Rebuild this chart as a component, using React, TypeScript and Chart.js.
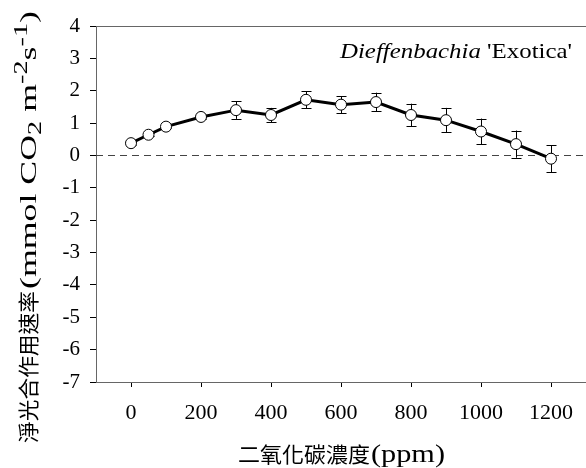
import React, { useEffect, useRef } from "react";
import { Chart, registerables } from "chart.js";

Chart.register(...registerables);

const co2 = [0, 50, 100, 200, 300, 400, 500, 600, 700, 800, 900, 1000, 1100, 1200];
const rate = [0.38, 0.64, 0.89, 1.19, 1.4, 1.25, 1.72, 1.57, 1.65, 1.25, 1.09, 0.74, 0.35, -0.1];
const err = [0.05, 0.05, 0.05, 0.06, 0.27, 0.22, 0.26, 0.26, 0.29, 0.35, 0.38, 0.4, 0.42, 0.42];
const xTicks = [0, 200, 400, 600, 800, 1000, 1200];
const yMin = -7;
const yMax = 4;
const xMin = -100;
const xMax = 1300;

const SERIF = "'Liberation Serif', 'Times New Roman', 'Noto Sans CJK TC', serif";
const CJK = "'Noto Sans CJK TC', 'Liberation Serif', serif";

type Seg = { t: string; font: string; dy: number };

// draws segments in a row starting at x=0 (current transform), stretched along the row to targetLen
function drawRow(ctx: CanvasRenderingContext2D, segs: Seg[], targetLen: number) {
  let total = 0;
  const widths = segs.map((s) => {
    ctx.font = s.font;
    const w = ctx.measureText(s.t).width;
    total += w;
    return w;
  });
  const k = targetLen / total;
  ctx.save();
  ctx.scale(k, 1);
  let px = 0;
  segs.forEach((s, i) => {
    ctx.font = s.font;
    ctx.fillText(s.t, px, s.dy);
    px += widths[i];
  });
  ctx.restore();
}

const decorPlugin = {
  id: "decor",
  beforeDatasetsDraw(chart: any) {
    const { ctx, chartArea, scales } = chart;
    const y0 = scales.y.getPixelForValue(0);
    ctx.save();
    // zero dashed line
    ctx.strokeStyle = "#444";
    ctx.lineWidth = 1;
    ctx.setLineDash([7, 5]);
    ctx.beginPath();
    ctx.moveTo(chartArea.left, Math.round(y0) + 0.5);
    ctx.lineTo(chartArea.right, Math.round(y0) + 0.5);
    ctx.stroke();
    ctx.setLineDash([]);
    // top border
    ctx.strokeStyle = "#666";
    ctx.beginPath();
    ctx.moveTo(chartArea.left, Math.round(chartArea.top) + 0.5);
    ctx.lineTo(chartArea.right, Math.round(chartArea.top) + 0.5);
    ctx.stroke();
    // error bars
    ctx.strokeStyle = "#000";
    ctx.lineWidth = 1;
    const ds = chart.data.datasets[0];
    ds.data.forEach((p: any, i: number) => {
      const x = Math.round(scales.x.getPixelForValue(p.x)) + 0.5;
      const yt = scales.y.getPixelForValue(p.y + err[i]);
      const yb = scales.y.getPixelForValue(p.y - err[i]);
      ctx.beginPath();
      ctx.moveTo(x, yt);
      ctx.lineTo(x, yb);
      ctx.moveTo(x - 5, Math.round(yt) + 0.5);
      ctx.lineTo(x + 5, Math.round(yt) + 0.5);
      ctx.moveTo(x - 5, Math.round(yb) + 0.5);
      ctx.lineTo(x + 5, Math.round(yb) + 0.5);
      ctx.stroke();
    });
    ctx.restore();
  },
  afterDraw(chart: any) {
    const { ctx } = chart;
    ctx.save();
    ctx.fillStyle = "#000";
    ctx.textBaseline = "alphabetic";
    ctx.textAlign = "left";

    // annotation: left 340, right 572, baseline 58
    ctx.save();
    ctx.translate(340, 58);
    drawRow(
      ctx,
      [
        { t: "Dieffenbachia", font: `italic 22px ${SERIF}`, dy: 0 },
        { t: " 'Exotica'", font: `22px ${SERIF}`, dy: 0 },
      ],
      232
    );
    ctx.restore();

    // x title: CJK part 238..370, (ppm) 371..445, baseline 462
    ctx.save();
    ctx.translate(238, 462);
    drawRow(ctx, [{ t: "二氧化碳濃度", font: `21px ${CJK}`, dy: 0 }], 132);
    ctx.restore();
    ctx.save();
    ctx.translate(371, 462);
    drawRow(ctx, [{ t: "(ppm)", font: `25px ${SERIF}`, dy: 0 }], 74);
    ctx.restore();

    // y title rotated: CJK from y=443 up to 291, latin from 289 up to 10
    ctx.save();
    ctx.translate(36, 443);
    ctx.rotate(-Math.PI / 2);
    drawRow(ctx, [{ t: "淨光合作用速率", font: `21px ${CJK}`, dy: 0 }], 152);
    ctx.restore();
    ctx.save();
    ctx.translate(36, 289);
    ctx.rotate(-Math.PI / 2);
    drawRow(
      ctx,
      [
        { t: "(mmol CO", font: `24px ${SERIF}`, dy: 0 },
        { t: "2", font: `19px ${SERIF}`, dy: 5 },
        { t: " m", font: `24px ${SERIF}`, dy: 0 },
        { t: "-2", font: `19px ${SERIF}`, dy: -9 },
        { t: "s", font: `24px ${SERIF}`, dy: 0 },
        { t: "-1", font: `19px ${SERIF}`, dy: -9 },
        { t: ")", font: `24px ${SERIF}`, dy: 0 },
      ],
      278
    );
    ctx.restore();

    ctx.restore();
  },
};

export default function App() {
  const ref = useRef<HTMLCanvasElement | null>(null);
  useEffect(() => {
    if (!ref.current) return;
    const chart = new Chart(ref.current, {
      type: "scatter",
      data: {
        datasets: [
          {
            data: co2.map((x, i) => ({ x, y: rate[i] })),
            showLine: true,
            borderColor: "#000",
            borderWidth: 3,
            pointRadius: 5.5,
            pointBackgroundColor: "#fff",
            pointBorderColor: "#000",
            pointBorderWidth: 1,
          },
        ],
      },
      options: {
        responsive: false,
        animation: false,
        layout: { autoPadding: false, padding: { top: 26, right: 0, left: 0, bottom: 0 } },
        plugins: {
          legend: { display: false },
          tooltip: { enabled: false },
          title: { display: false },
        },
        scales: {
          x: {
            type: "linear",
            min: xMin,
            max: xMax,
            afterBuildTicks: (s: any) => {
              s.ticks = xTicks.map((v) => ({ value: v }));
            },
            afterFit: (s: any) => {
              s.height = 86;
            },
            ticks: {
              color: "#000",
              font: { family: SERIF, size: 22 },
              padding: 13,
              maxRotation: 0,
              autoSkip: false,
              callback: (v: any) => String(v),
            },
            grid: { drawOnChartArea: false, tickLength: 5, tickColor: "#000" },
            border: { color: "#666", width: 1 },
          },
          y: {
            min: yMin,
            max: yMax,
            afterFit: (s: any) => {
              s.width = 96;
            },
            ticks: {
              stepSize: 1,
              color: "#000",
              font: { family: SERIF, size: 21 },
              padding: 10,
              callback: (v: any) => String(v),
            },
            grid: { drawOnChartArea: false, tickLength: 6, tickColor: "#000" },
            border: { color: "#666", width: 1 },
          },
        },
      },
      plugins: [decorPlugin],
    });
    return () => chart.destroy();
  }, []);
  return (
    <div style={{ position: "fixed", left: 0, top: 0, width: 586, height: 468, background: "#fff" }}>
      <canvas ref={ref} width={586} height={468} style={{ width: 586, height: 468 }} />
    </div>
  );
}
